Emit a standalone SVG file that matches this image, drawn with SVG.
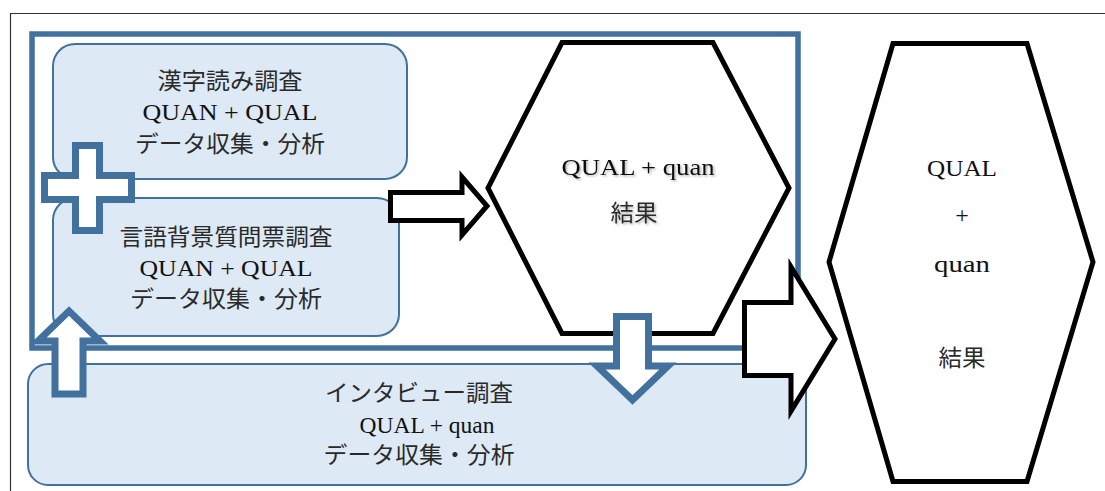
<svg xmlns="http://www.w3.org/2000/svg" width="1105" height="491" viewBox="0 0 1105 491">
<defs>
<style>
.box{fill:#DDE9F5;stroke:#41719C;stroke-width:2}
.hex{fill:#ffffff;stroke:#000000;stroke-width:5;stroke-linejoin:miter}
.barrow{fill:#ffffff;stroke:#000000;stroke-width:5;stroke-linejoin:miter;stroke-miterlimit:10}
.warrow{fill:#ffffff;stroke:#41719C;stroke-width:7;stroke-linejoin:miter;stroke-miterlimit:10}
.jp{font-family:"Liberation Serif","Noto Sans CJK JP",serif;font-size:23px;fill:#2a2a2a;text-anchor:middle}
.lt{font-family:"Liberation Serif","Noto Sans CJK JP",serif;font-size:24px;fill:#111;text-anchor:middle}
</style>
<filter id="sh" x="-10%" y="-30%" width="120%" height="160%">
<feDropShadow dx="1.5" dy="1.5" stdDeviation="1" flood-color="#000" flood-opacity="0.3"/>
</filter>
</defs>
<rect width="1105" height="491" fill="#ffffff"/>
<path d="M10.5,491 V13.5 H1105" fill="none" stroke="#333" stroke-width="1.2"/>
<g id="container">
<rect x="32" y="34" width="766" height="314" fill="#ffffff" stroke="#41719C" stroke-width="5.5"/>
</g>
<g id="box1">
<rect class="box" x="53" y="44" width="354" height="135" rx="22"/>
<text class="jp" x="230" y="89" textLength="145" lengthAdjust="spacingAndGlyphs">漢字読み調査</text>
<text class="lt" x="230" y="120" textLength="175" lengthAdjust="spacingAndGlyphs">QUAN + QUAL</text>
<text class="jp" x="230" y="152" textLength="190" lengthAdjust="spacingAndGlyphs">データ収集・分析</text>
</g>
<g id="box2">
<rect class="box" x="53" y="198" width="346" height="138" rx="22"/>
<text class="jp" x="226" y="245" textLength="213" lengthAdjust="spacingAndGlyphs">言語背景質問票調査</text>
<text class="lt" x="226" y="276" textLength="173" lengthAdjust="spacingAndGlyphs">QUAN + QUAL</text>
<text class="jp" x="226" y="307" textLength="192" lengthAdjust="spacingAndGlyphs">データ収集・分析</text>
</g>
<g id="box3">
<rect class="box" x="28" y="364" width="778" height="121" rx="20"/>
<text class="jp" x="419" y="401" textLength="188" lengthAdjust="spacingAndGlyphs">インタビュー調査</text>
<text class="lt" x="427" y="433" textLength="135" lengthAdjust="spacingAndGlyphs">QUAL + quan</text>
<text class="jp" x="419" y="463" textLength="191" lengthAdjust="spacingAndGlyphs">データ収集・分析</text>
</g>
<g id="hex1">
<polygon class="hex" points="562,42.5 713,42.5 789,188 713,333.5 562,333.5 488,188"/>
<g filter="url(#sh)">
<text class="lt" x="638" y="175" textLength="153" lengthAdjust="spacingAndGlyphs">QUAL + quan</text>
<text class="jp" x="634" y="221" textLength="47" lengthAdjust="spacingAndGlyphs">結果</text>
</g>
</g>
<g id="hex2">
<polygon class="hex" points="893,43.5 1027,43.5 1093,262 1027,481.5 893,481.5 829,262"/>
<text class="lt" x="962" y="176" textLength="70" lengthAdjust="spacingAndGlyphs">QUAL</text>
<text class="lt" x="962" y="223">+</text>
<text class="lt" x="962" y="272" textLength="56" lengthAdjust="spacingAndGlyphs">quan</text>
<text class="jp" x="962" y="366" textLength="47" lengthAdjust="spacingAndGlyphs">結果</text>
</g>
<g id="connectors">
<path id="plus" class="warrow" d="M75.5,145.5 H99.5 V175.5 H131.5 V199.5 H99.5 V230.5 H75.5 V199.5 H44.5 V175.5 H75.5 Z"/>
<path id="arrow-up" class="warrow" d="M55,394 V341 H38 L69,311 L100,341 H83 V394 Z"/>
<path id="arrow-down" class="warrow" d="M616.5,316.5 H648.5 V366 H668 L632.5,400 L597,366 H616.5 Z"/>
<path id="arrow-to-hex1" class="barrow" d="M390.5,192.5 H462 V177 L487,206 L462,235 V220.5 H390.5 Z"/>
<path id="arrow-to-hex2" class="barrow" d="M744.5,302.5 H791 V267 L835,339 L791,411 V375.5 H744.5 Z"/>
</g>
</svg>
